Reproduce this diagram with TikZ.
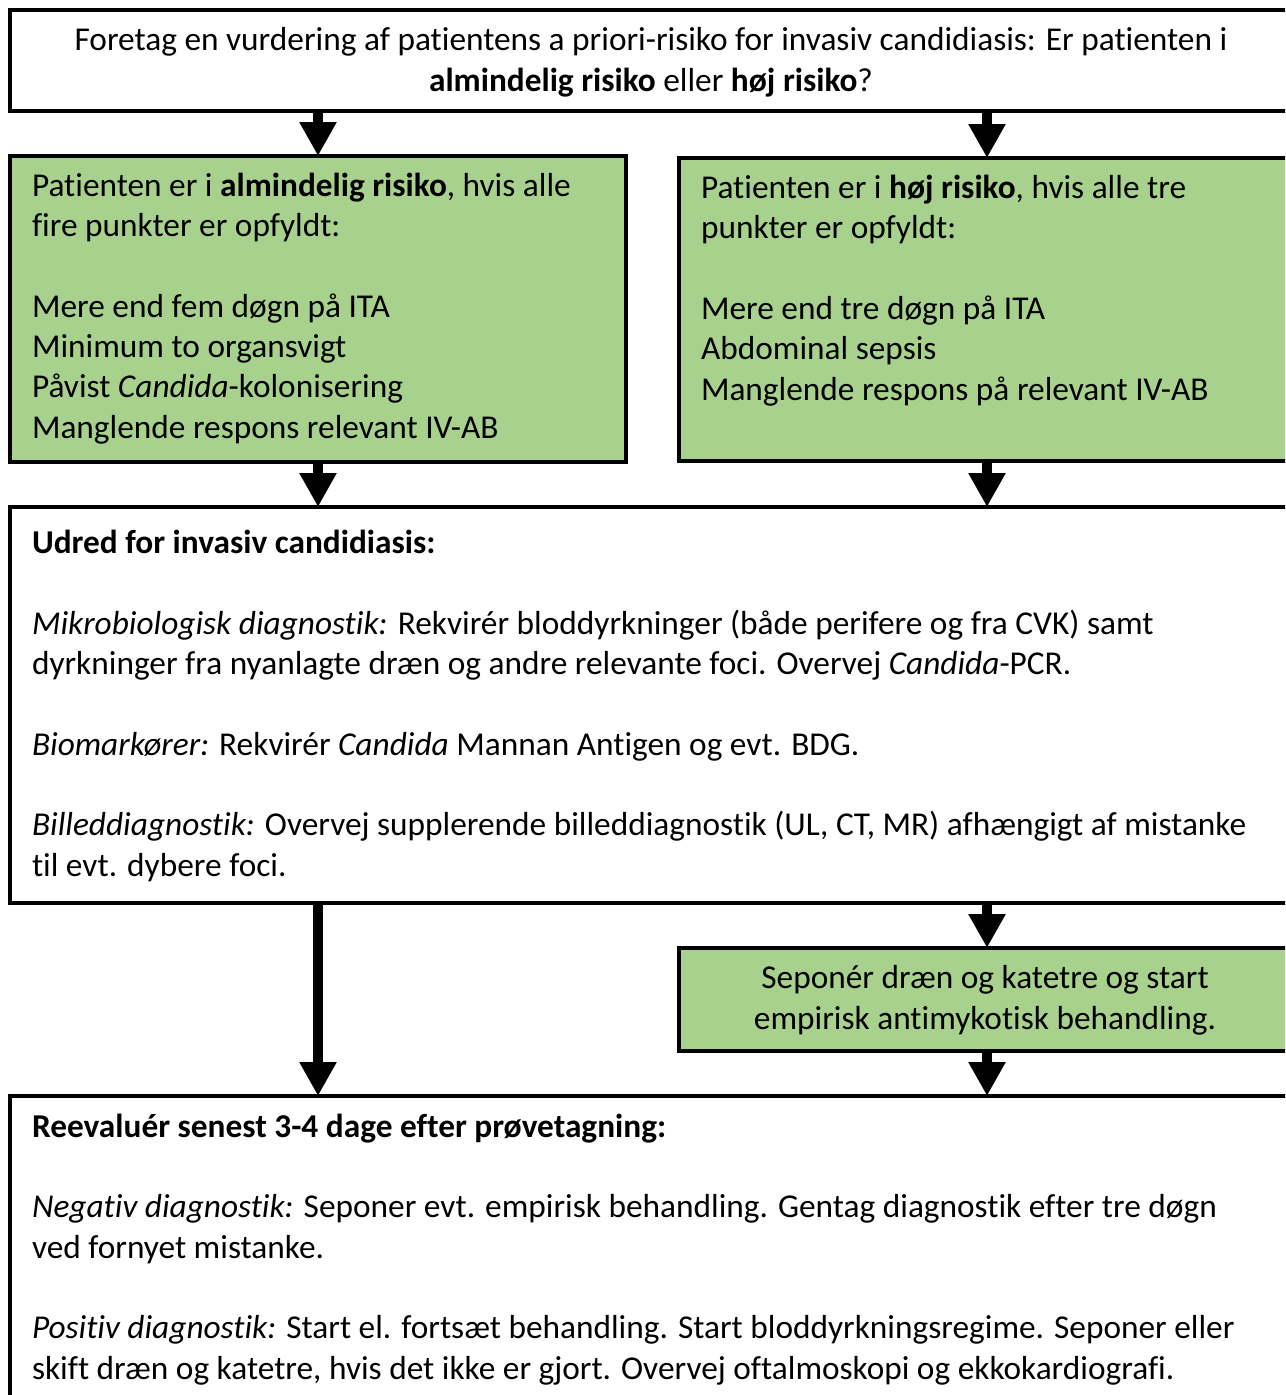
\documentclass[tikz,border=0pt]{standalone}
\usepackage{fontspec}
\setmainfont[Ligatures=NoCommon]{Carlito}
\usetikzlibrary{arrows.meta,fit}
\definecolor{boxgreen}{HTML}{A9D18E}
\begin{document}
\begin{tikzpicture}[x=0.75pt,y=-0.75pt,
  box/.style={draw=black, line width=2.6pt, inner sep=0pt, outer sep=0pt},
  greenbox/.style={box, fill=boxgreen},
  txt/.style={inner sep=0pt, outer sep=0pt, align=left, anchor=base west, font=\fontsize{25pt}{30.2pt}\selectfont},
  ctxt/.style={txt, align=center, anchor=base},
  flow/.style={line width=7.5pt, -{Triangle[width=26.25pt,length=25.5pt]}}]
\useasboundingbox (0,0) rectangle (1285,1395);
\clip (0,0) rectangle (1285,1395);
\fill[white] (0,0) rectangle (1285,1395);

% boxes
\node[box, fit={(10,10) (1292,111)}] (top) {};
\node[greenbox, fit={(10,156) (626,462)}] (lg) {};
\node[greenbox, fit={(679,158) (1292,461)}] (rg) {};
\node[box, fit={(10,507) (1292,903)}] (ud) {};
\node[greenbox, fit={(679,948) (1292,1051)}] (sep) {};
\node[box, fit={(10,1096) (1292,1430)}] (re) {};

% texts (anchored at the baseline of their last line)
\node[ctxt] (ttop) at (651,91) {Foretag en vurdering af patientens a priori-risiko for invasiv candidiasis: Er patienten i\\ \textbf{almindelig risiko} eller \textbf{høj risiko}?};

\node[txt] (tlg) at (32,438) {Patienten er i \textbf{almindelig risiko}, hvis alle\\
fire punkter er opfyldt:\\[30.2pt]
Mere end fem døgn på ITA\\
Minimum to organsvigt\\
Påvist \textit{Candida}-kolonisering\\
Manglende respons relevant IV-AB};

\node[txt] (trg) at (701,400) {Patienten er i \textbf{høj risiko}, hvis alle tre\\
punkter er opfyldt:\\[30.2pt]
Mere end tre døgn på ITA\\
Abdominal sepsis\\
Manglende respons på relevant IV-AB};

\node[txt] (tud) at (32,876) {\textbf{Udred for invasiv candidiasis:}\\[30.2pt]
\textit{Mikrobiologisk diagnostik:} Rekvirér bloddyrkninger (både perifere og fra CVK) samt\\
dyrkninger fra nyanlagte dræn og andre relevante foci. Overvej \textit{Candida}-PCR.\\[30.2pt]
\textit{Biomarkører:} Rekvirér \textit{Candida} Mannan Antigen og evt. BDG.\\[30.2pt]
\textit{Billeddiagnostik:} Overvej supplerende billeddiagnostik (UL, CT, MR) afhængigt af mistanke\\
til evt. dybere foci.};

\node[ctxt] (tsep) at (985,1029) {Seponér dræn og katetre og start\\ empirisk antimykotisk behandling.};

\node[txt] (tre) at (32,1379) {\textbf{Reevaluér senest 3-4 dage efter prøvetagning:}\\[30.2pt]
\textit{Negativ diagnostik:} Seponer evt. empirisk behandling. Gentag diagnostik efter tre døgn\\
ved fornyet mistanke.\\[30.2pt]
\textit{Positiv diagnostik:} Start el. fortsæt behandling. Start bloddyrkningsregime. Seponer eller\\
skift dræn og katetre, hvis det ikke er gjort. Overvej oftalmoskopi og ekkokardiografi.};

% connectors
\coordinate (cl) at (318,0);
\coordinate (cr) at (987,0);
\draw[flow] (top.south -| cl) -- (lg.north -| cl);
\draw[flow] (top.south -| cr) -- (rg.north -| cr);
\draw[flow] (lg.south -| cl) -- (ud.north -| cl);
\draw[flow] (rg.south -| cr) -- (ud.north -| cr);
\draw[flow] (ud.south -| cl) -- (re.north -| cl);
\draw[flow] (ud.south -| cr) -- (sep.north -| cr);
\draw[flow] (sep.south -| cr) -- (re.north -| cr);
\end{tikzpicture}
\end{document}
